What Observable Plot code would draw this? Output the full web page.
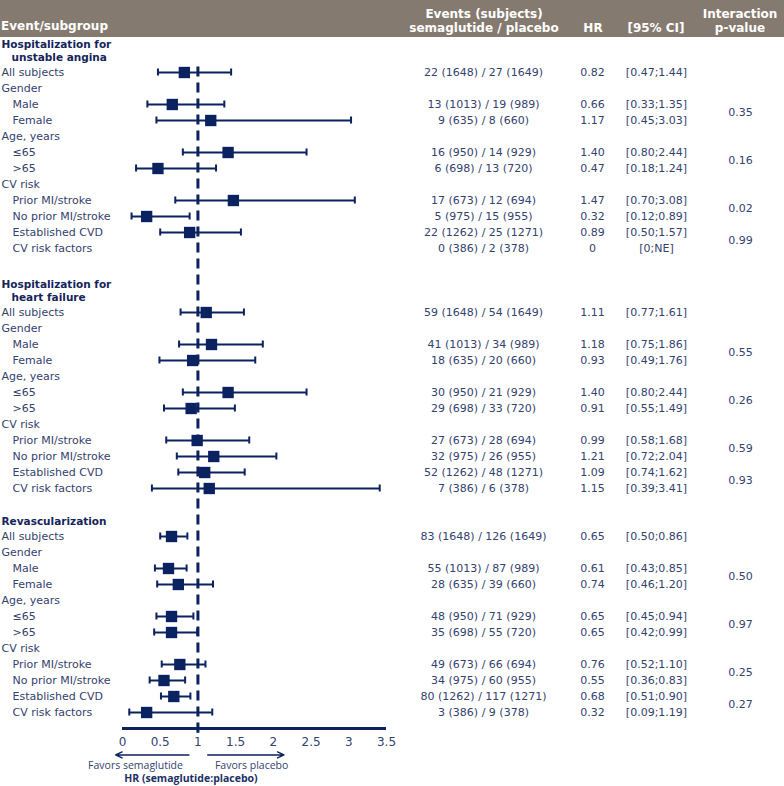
<!DOCTYPE html>
<html>
<head>
<meta charset="utf-8">
<script src="https://cdn.jsdelivr.net/npm/d3@7"></script>
<script src="https://cdn.jsdelivr.net/npm/@observablehq/plot@0.6"></script>
<style>
  html, body { margin: 0; padding: 0; background: #fff; }
  #wrap { width: 784px; }
  #header { position: relative; height: 37px; background: #857a70; color: #fff;
            font: bold 12px "DejaVu Sans", sans-serif; }
  #header span { position: absolute; white-space: nowrap; transform: translate(-50%, -50%); }
  #header span.left { transform: translate(0, -50%); }
</style>
</head>
<body>
<div id="wrap">
  <div id="header"></div>
  <div id="chart"></div>
</div>
<script>
// ---------- data ----------
const outcomes = ["Hospitalization for\nunstable angina", "Hospitalization for\nheart failure", "Revascularization"];
const subgroups = ["All subjects", "Gender", "Male", "Female", "Age, years", "≤65", ">65",
                   "CV risk", "Prior MI/stroke", "No prior MI/stroke", "Established CVD", "CV risk factors"];
const categoryHeads = ["Gender", "Age, years", "CV risk"];
const interactionPairs = [["Male", "Female"], ["≤65", ">65"], ["Prior MI/stroke", "No prior MI/stroke"], ["Established CVD", "CV risk factors"]];

// Hospitalization for unstable angina
const eventsUA = ["22 (1648) / 27 (1649)", "13 (1013) / 19 (989)", "9 (635) / 8 (660)", "16 (950) / 14 (929)", "6 (698) / 13 (720)",
                  "17 (673) / 12 (694)", "5 (975) / 15 (955)", "22 (1262) / 25 (1271)", "0 (386) / 2 (378)"];
const hrUA = [0.82, 0.66, 1.17, 1.40, 0.47, 1.47, 0.32, 0.89, 0];
const loUA = [0.47, 0.33, 0.45, 0.80, 0.18, 0.70, 0.12, 0.50, 0];
const hiUA = [1.44, 1.35, 3.03, 2.44, 1.24, 3.08, 0.89, 1.57, null];
const pUA = ["0.35", "0.16", "0.02", "0.99"];

// Hospitalization for heart failure
const eventsHF = ["59 (1648) / 54 (1649)", "41 (1013) / 34 (989)", "18 (635) / 20 (660)", "30 (950) / 21 (929)", "29 (698) / 33 (720)",
                  "27 (673) / 28 (694)", "32 (975) / 26 (955)", "52 (1262) / 48 (1271)", "7 (386) / 6 (378)"];
const hrHF = [1.11, 1.18, 0.93, 1.40, 0.91, 0.99, 1.21, 1.09, 1.15];
const loHF = [0.77, 0.75, 0.49, 0.80, 0.55, 0.58, 0.72, 0.74, 0.39];
const hiHF = [1.61, 1.86, 1.76, 2.44, 1.49, 1.68, 2.04, 1.62, 3.41];
const pHF = ["0.55", "0.26", "0.59", "0.93"];

// Revascularization
const eventsRV = ["83 (1648) / 126 (1649)", "55 (1013) / 87 (989)", "28 (635) / 39 (660)", "48 (950) / 71 (929)", "35 (698) / 55 (720)",
                  "49 (673) / 66 (694)", "34 (975) / 60 (955)", "80 (1262) / 117 (1271)", "3 (386) / 9 (378)"];
const hrRV = [0.65, 0.61, 0.74, 0.65, 0.65, 0.76, 0.55, 0.68, 0.32];
const loRV = [0.50, 0.43, 0.46, 0.45, 0.42, 0.52, 0.36, 0.51, 0.09];
const hiRV = [0.86, 0.85, 1.20, 0.94, 0.99, 1.10, 0.83, 0.90, 1.19];
const pRV = ["0.50", "0.97", "0.25", "0.27"];

const xTicks = [0, 0.5, 1, 1.5, 2, 2.5, 3, 3.5];
const nullHR = 1;
const favors = [
  {label: "Favors semaglutide", from: 0.88, to: -0.09, side: "left"},
  {label: "Favors placebo", from: 1.13, to: 2.14, side: "right"}
];
const axisTitle = "HR (semaglutide:placebo)";
const headerCols = [
  {lines: ["Event/subgroup"], x: 1, align: "left", ys: [26]},
  {lines: ["Events (subjects)", "semaglutide / placebo"], x: 484, ys: [14, 28]},
  {lines: ["HR"], x: 593, ys: [28]},
  {lines: ["[95% CI]"], x: 656, ys: [28]},
  {lines: ["Interaction", "p-value"], x: 740, ys: [14, 28]}
];

// ---------- layout (row slots derived from structure) ----------
const sections = [
  {events: eventsUA, hr: hrUA, lo: loUA, hi: hiUA, p: pUA},
  {events: eventsHF, hr: hrHF, lo: loHF, hi: hiHF, p: pHF},
  {events: eventsRV, hr: hrRV, lo: loRV, hi: hiRV, p: pRV}
];
const labelRows = [], headingRows = [], dataRows = [], pRows = [];
let row0 = 0;
outcomes.forEach((name, k) => {
  const lines = name.split("\n");
  if (k > 0) row0 += subgroups.length + 1 + lines.length;
  lines.forEach((t, j) => headingRows.push({text: t, slot: row0 - 0.95 - 0.8 * (lines.length - 1 - j), indent: j > 0}));
  const sec = sections[k];
  const slotOf = {};
  let di = 0;
  subgroups.forEach((g, i) => {
    const slot = row0 + i;
    slotOf[g] = slot;
    const isHead = categoryHeads.includes(g);
    labelRows.push({text: g, slot, indent: !isHead && i > 0});
    if (!isHead) {
      const hr = sec.hr[di], lo = sec.lo[di], hi = sec.hi[di];
      const fmt = v => v == null ? "NE" : (v === 0 ? "0" : v.toFixed(2));
      dataRows.push({slot, events: sec.events[di], hr, lo, hi,
                     hrText: fmt(hr), ciText: `[${fmt(lo)};${fmt(hi)}]`});
      di++;
    }
  });
  interactionPairs.forEach((pair, j) => {
    pRows.push({slot: (slotOf[pair[0]] + slotOf[pair[1]]) / 2, text: sec.p[j]});
  });
});
const lastSlot = row0 + subgroups.length - 1;
const axisSlot = lastSlot + 1;
const ciRows = dataRows.filter(d => d.hi != null);
const markRows = dataRows.filter(d => d.hr > 0);

// ---------- header (HTML) ----------
const header = document.getElementById("header");
headerCols.forEach(c => c.lines.forEach((t, i) => {
  const s = document.createElement("span");
  s.textContent = t;
  if (c.align === "left") s.className = "left";
  s.style.left = c.x + "px";
  s.style.top = c.ys[i] + "px";
  header.appendChild(s);
}));

// ---------- plot ----------
const navy = "#0b2260";
const textCol = "#33426e";
const headCol = "#14245a";
const font = "DejaVu Sans";
const svgH = 749, axisY = 691;

const chart = Plot.plot({
  width: 784,
  height: svgH,
  marginTop: 0, marginLeft: 0, marginRight: 0, marginBottom: svgH - axisY,
  x: {domain: [0, 3.5], range: [122, 386]},
  y: {domain: [-35 / 16, axisSlot], range: [0, axisY], axis: null},
  style: {fontFamily: font, background: "#fff", overflow: "visible"},
  marks: [
    // null line
    Plot.ruleX([nullHR], {y1: -0.35, y2: axisSlot, stroke: navy, strokeWidth: 3, strokeDasharray: "10,6"}),
    Plot.ruleX([nullHR], {y1: axisSlot, y2: axisSlot + 0.3, stroke: navy, strokeWidth: 3}),
    // axis line
    Plot.ruleY([axisSlot], {x1: xTicks[0], x2: xTicks[xTicks.length - 1], stroke: navy, strokeWidth: 3}),
    Plot.axisX({ticks: xTicks, tickSize: 0, tickPadding: 9, tickFormat: d => `${d}`, fontSize: 12,
                fill: textCol, label: null}),
    // CIs
    Plot.ruleY(ciRows, {y: "slot", x1: "lo", x2: "hi", stroke: navy, strokeWidth: 2}),
    Plot.ruleX(ciRows, {x: "lo", y1: d => d.slot - 0.22, y2: d => d.slot + 0.22, stroke: navy, strokeWidth: 2}),
    Plot.ruleX(ciRows, {x: "hi", y1: d => d.slot - 0.22, y2: d => d.slot + 0.22, stroke: navy, strokeWidth: 2}),
    Plot.dot(markRows, {x: "hr", y: "slot", symbol: "square", r: 6.4, fill: navy, stroke: null}),
    // left labels
    Plot.text(headingRows.filter(d => !d.indent), {y: "slot", text: "text", frameAnchor: "left", textAnchor: "start", dx: 1,
              fontWeight: "bold", fontSize: 10.5, fill: headCol}),
    Plot.text(headingRows.filter(d => d.indent), {y: "slot", text: "text", frameAnchor: "left", textAnchor: "start", dx: 11,
              fontWeight: "bold", fontSize: 10.5, fill: headCol}),
    Plot.text(labelRows.filter(d => !d.indent), {y: "slot", text: "text", frameAnchor: "left", textAnchor: "start", dx: 1,
              fontSize: 11, fill: textCol}),
    Plot.text(labelRows.filter(d => d.indent), {y: "slot", text: "text", frameAnchor: "left", textAnchor: "start", dx: 12,
              fontSize: 11, fill: textCol}),
    // table columns
    Plot.text(dataRows, {y: "slot", text: "events", frameAnchor: "left", textAnchor: "middle", dx: 483, fontSize: 11, fill: textCol}),
    Plot.text(dataRows, {y: "slot", text: "hrText", frameAnchor: "left", textAnchor: "middle", dx: 592, fontSize: 11, fill: textCol}),
    Plot.text(dataRows, {y: "slot", text: "ciText", frameAnchor: "left", textAnchor: "middle", dx: 656, fontSize: 11, fill: textCol}),
    Plot.text(pRows, {y: "slot", text: "text", frameAnchor: "left", textAnchor: "middle", dx: 740, fontSize: 11, fill: textCol}),
    // favors arrows and labels
    Plot.arrow(favors, {x1: "from", x2: "to", y1: axisSlot + 1.65, y2: axisSlot + 1.65, stroke: navy, strokeWidth: 1.5,
               headLength: 7, headAngle: 50}),
    Plot.text(favors.filter(d => d.side === "left"), {x: () => nullHR, y: () => axisSlot + 2.35, text: "label",
              textAnchor: "end", dx: -15, fontFamily: "Open Sans", fontSize: 10.5, fill: textCol}),
    Plot.text(favors.filter(d => d.side === "right"), {x: () => nullHR, y: () => axisSlot + 2.35, text: "label",
              textAnchor: "start", dx: 17, fontFamily: "Open Sans", fontSize: 10.5, fill: textCol}),
    Plot.text([axisTitle], {x: () => nullHR, y: () => axisSlot + 3.15, text: d => d, textAnchor: "middle", dx: -7,
              fontFamily: "Open Sans", fontWeight: "bold", fontSize: 10.5, fill: "#1c2f66"})
  ]
});
document.getElementById("chart").appendChild(chart);
</script>
</body>
</html>
